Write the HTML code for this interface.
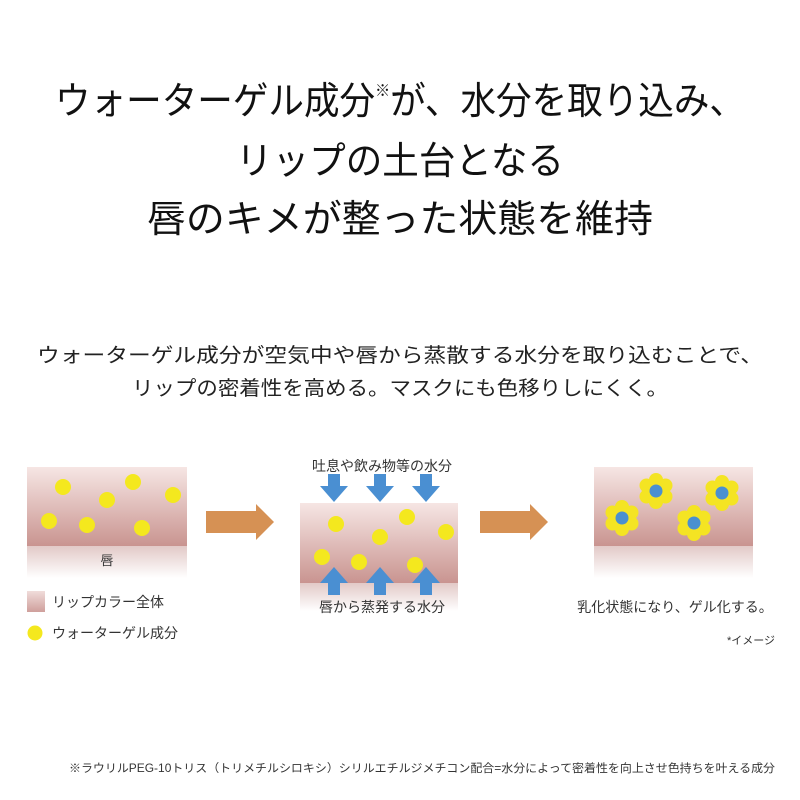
<!DOCTYPE html>
<html><head><meta charset="utf-8"><style>
html,body{margin:0;padding:0;background:#fff;}
svg{display:block;font-family:"Liberation Sans","Noto Sans CJK JP",sans-serif;}
</style></head><body>
<svg width="800" height="800" viewBox="0 0 800 800" xmlns="http://www.w3.org/2000/svg">
<defs>
<linearGradient id="pk" x1="0" y1="0" x2="0" y2="1">
<stop offset="0" stop-color="#f6e6e4"/><stop offset="1" stop-color="#c99490"/>
</linearGradient>
<linearGradient id="fd" x1="0" y1="0" x2="0" y2="1">
<stop offset="0" stop-color="#e2c9c7"/><stop offset="1" stop-color="#ffffff"/>
</linearGradient>
<linearGradient id="lg" x1="0" y1="0" x2="0" y2="1">
<stop offset="0" stop-color="#f0dcda"/><stop offset="1" stop-color="#cf9f9b"/>
</linearGradient>
<g id="fl">
<circle cx="0" cy="-11" r="7" fill="#f4e423"/><circle cx="9.5" cy="-5.5" r="7" fill="#f4e423"/>
<circle cx="9.5" cy="5.5" r="7" fill="#f4e423"/><circle cx="0" cy="11" r="7" fill="#f4e423"/>
<circle cx="-9.5" cy="5.5" r="7" fill="#f4e423"/><circle cx="-9.5" cy="-5.5" r="7" fill="#f4e423"/>
<circle r="10" fill="#f4e423"/><circle r="6.5" fill="#4a90d0"/>
</g>
<g id="ad"><polygon points="-6,-16 6,-16 6,-4 14,-4 0,12 -14,-4 -6,-4" fill="#4a8fd2"/></g>
<g id="au"><polygon points="-6,16 6,16 6,4 14,4 0,-12 -14,4 -6,4" fill="#4a8fd2"/></g>
<g id="ar"><polygon points="0,-11 50,-11 50,-18 68,0 50,18 50,11 0,11" fill="#d69154"/></g>
</defs>

<g font-size="38" fill="#111" text-anchor="middle" font-weight="normal">
<text x="400" y="114" textLength="690" lengthAdjust="spacingAndGlyphs">ウォーターゲル成分<tspan font-size="16" dy="-18">※</tspan><tspan dy="18">が、水分を取り込み、</tspan></text>
<text x="400" y="174" textLength="328" lengthAdjust="spacingAndGlyphs">リップの土台となる</text>
<text x="400" y="232" textLength="506" lengthAdjust="spacingAndGlyphs">唇のキメが整った状態を維持</text>
</g>
<g font-size="20" fill="#222" text-anchor="middle">
<text x="400" y="362" textLength="726" lengthAdjust="spacingAndGlyphs">ウォーターゲル成分が空気中や唇から蒸散する水分を取り込むことで、</text>
<text x="400" y="395" textLength="536" lengthAdjust="spacingAndGlyphs">リップの密着性を高める。マスクにも色移りしにくく。</text>
</g>

<!-- panel 1 -->
<rect x="27" y="467" width="160" height="79" fill="url(#pk)"/>
<rect x="27" y="546" width="160" height="32" fill="url(#fd)"/>
<g fill="#f4e81e">
<circle cx="63" cy="487" r="8"/><circle cx="133" cy="482" r="8"/><circle cx="107" cy="500" r="8"/>
<circle cx="173" cy="495" r="8"/><circle cx="49" cy="521" r="8"/><circle cx="87" cy="525" r="8"/><circle cx="142" cy="528" r="8"/>
</g>
<text x="107" y="565" font-size="13" text-anchor="middle" fill="#333">唇</text>
<rect x="27" y="591" width="18" height="21" fill="url(#lg)"/>
<text x="52" y="607" font-size="14" fill="#333">リップカラー全体</text>
<circle cx="35" cy="633" r="7.5" fill="#f4e81e"/>
<text x="52" y="638" font-size="14" fill="#333">ウォーターゲル成分</text>

<use href="#ar" x="206" y="522"/>

<!-- panel 2 -->
<text x="382" y="471" font-size="14" text-anchor="middle" fill="#333">吐息や飲み物等の水分</text>
<rect x="300" y="503" width="158" height="80" fill="url(#pk)"/>
<rect x="300" y="583" width="158" height="28" fill="url(#fd)"/>
<g fill="#f4e81e">
<circle cx="336" cy="524" r="8"/><circle cx="407" cy="517" r="8"/><circle cx="380" cy="537" r="8"/>
<circle cx="446" cy="532" r="8"/><circle cx="322" cy="557" r="8"/><circle cx="359" cy="562" r="8"/><circle cx="415" cy="565" r="8"/>
</g>
<use href="#ad" x="334" y="490"/><use href="#ad" x="380" y="490"/><use href="#ad" x="426" y="490"/>
<use href="#au" x="334" y="579"/><use href="#au" x="380" y="579"/><use href="#au" x="426" y="579"/>
<text x="382" y="612" font-size="14" text-anchor="middle" fill="#333">唇から蒸発する水分</text>

<use href="#ar" x="480" y="522"/>

<!-- panel 3 -->
<rect x="594" y="467" width="159" height="79" fill="url(#pk)"/>
<rect x="594" y="546" width="159" height="32" fill="url(#fd)"/>
<use href="#fl" x="656" y="491"/><use href="#fl" x="722" y="493"/>
<use href="#fl" x="622" y="518"/><use href="#fl" x="694" y="523"/>
<text x="675" y="612" font-size="14" text-anchor="middle" fill="#333">乳化状態になり、ゲル化する。</text>
<text x="775" y="644" font-size="11" text-anchor="end" fill="#333">*イメージ</text>

<text x="422" y="772" font-size="11.5" text-anchor="middle" fill="#333" textLength="706" lengthAdjust="spacingAndGlyphs">※ラウリルPEG-10トリス（トリメチルシロキシ）シリルエチルジメチコン配合=水分によって密着性を向上させ色持ちを叶える成分</text>
</svg>
</body></html>
